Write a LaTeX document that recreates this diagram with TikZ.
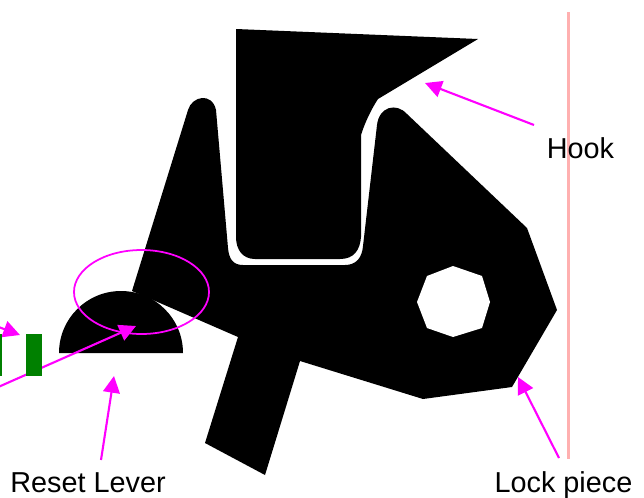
\documentclass[tikz,border=0pt]{standalone}
\usepackage{fontspec}
\usepackage{xcolor}
\usepackage{tikz}
\usetikzlibrary{arrows.meta,positioning}
\setmainfont{Liberation Sans}
\definecolor{mMagenta}{RGB}{255,0,255}
\definecolor{mGreen}{RGB}{0,128,0}
\definecolor{mPink}{RGB}{255,176,176}

\begin{document}
\begin{tikzpicture}[
    x=0.02cm, y=-0.02cm,
    part/.style={fill=black, draw=none},
    hole/.style={fill=white, draw=none},
    callout/.style={mMagenta, line width=1.2pt, -{Triangle[length=9.5pt,width=9.5pt]}},
    label/.style={font=\fontsize{16.4}{20}\selectfont, anchor=base, inner sep=0pt}
]
  \useasboundingbox (0,0) rectangle (644,497);

  \draw[mPink, line width=1.5pt] (568.5,12) -- (568.5,459);

  % lock piece
  \fill[part] (132,291) -- (188,110)
    .. controls (192,96) and (212,92) .. (216,110)
    -- (228,248) .. controls (229,259) and (233,265) .. (243,265)
    -- (345,265) .. controls (356,265) and (362,258) .. (363,246)
    -- (377,125) .. controls (379,107) and (396,102) .. (407,114)
    -- (527,228) -- (557,310) -- (512,387) -- (423,399)
    -- (300,361) -- (265,475) -- (205,443) -- (238,337)
    -- (153,300) -- cycle;
  \fill[hole] (453,266) -- (482,276) -- (490,302) -- (482,328)
    -- (453,337) -- (427,328) -- (417,302) -- (427,276) -- cycle;

  % hook
  \fill[part] (236,29) -- (478,39) -- (378,99)
    .. controls (372,108) and (365,122) .. (361,135)
    -- (361,237) .. controls (360,250) and (354,259) .. (340,259)
    -- (255,259) .. controls (243,259) and (236,250) .. (236,237) -- cycle;

  % reset lever
  \fill[part] (59,353) arc[start angle=180, end angle=360, radius=62] -- cycle;

  \node[label] (lblHook) at (580.5,158) {Hook};
  \node[label] (lblReset) at (88,492) {Reset Lever};
  \node[label] (lblLock) at (563.5,492) {Lock piece};

  \coordinate (hookTail) at (534,125);
  \coordinate (hookTip) at (425,83);
  \coordinate (lockTail) at (559,458);
  \coordinate (lockTip) at (518,377);
  \coordinate (resetTail) at (101,460);
  \coordinate (resetTip) at (114,376);
  \coordinate (leverTail) at (-4,388);
  \coordinate (leverTip) at (136,326);
  \coordinate (sideTail) at (-4,326);
  \coordinate (sideTip) at (20,335);

  \draw[callout] (hookTail) -- (hookTip);
  \draw[callout] (lockTail) -- (lockTip);
  \draw[callout] (resetTail) -- (resetTip);
  \draw[callout] (leverTail) -- (leverTip);
  \draw[callout] (sideTail) -- (sideTip);

  \draw[mMagenta, line width=1pt] (141.5,292) ellipse [x radius=67.5, y radius=42];

  \fill[mGreen] (26,334) rectangle (42,376);
  \fill[mGreen] (-4,334) rectangle (1.5,376);
\end{tikzpicture}
\end{document}
